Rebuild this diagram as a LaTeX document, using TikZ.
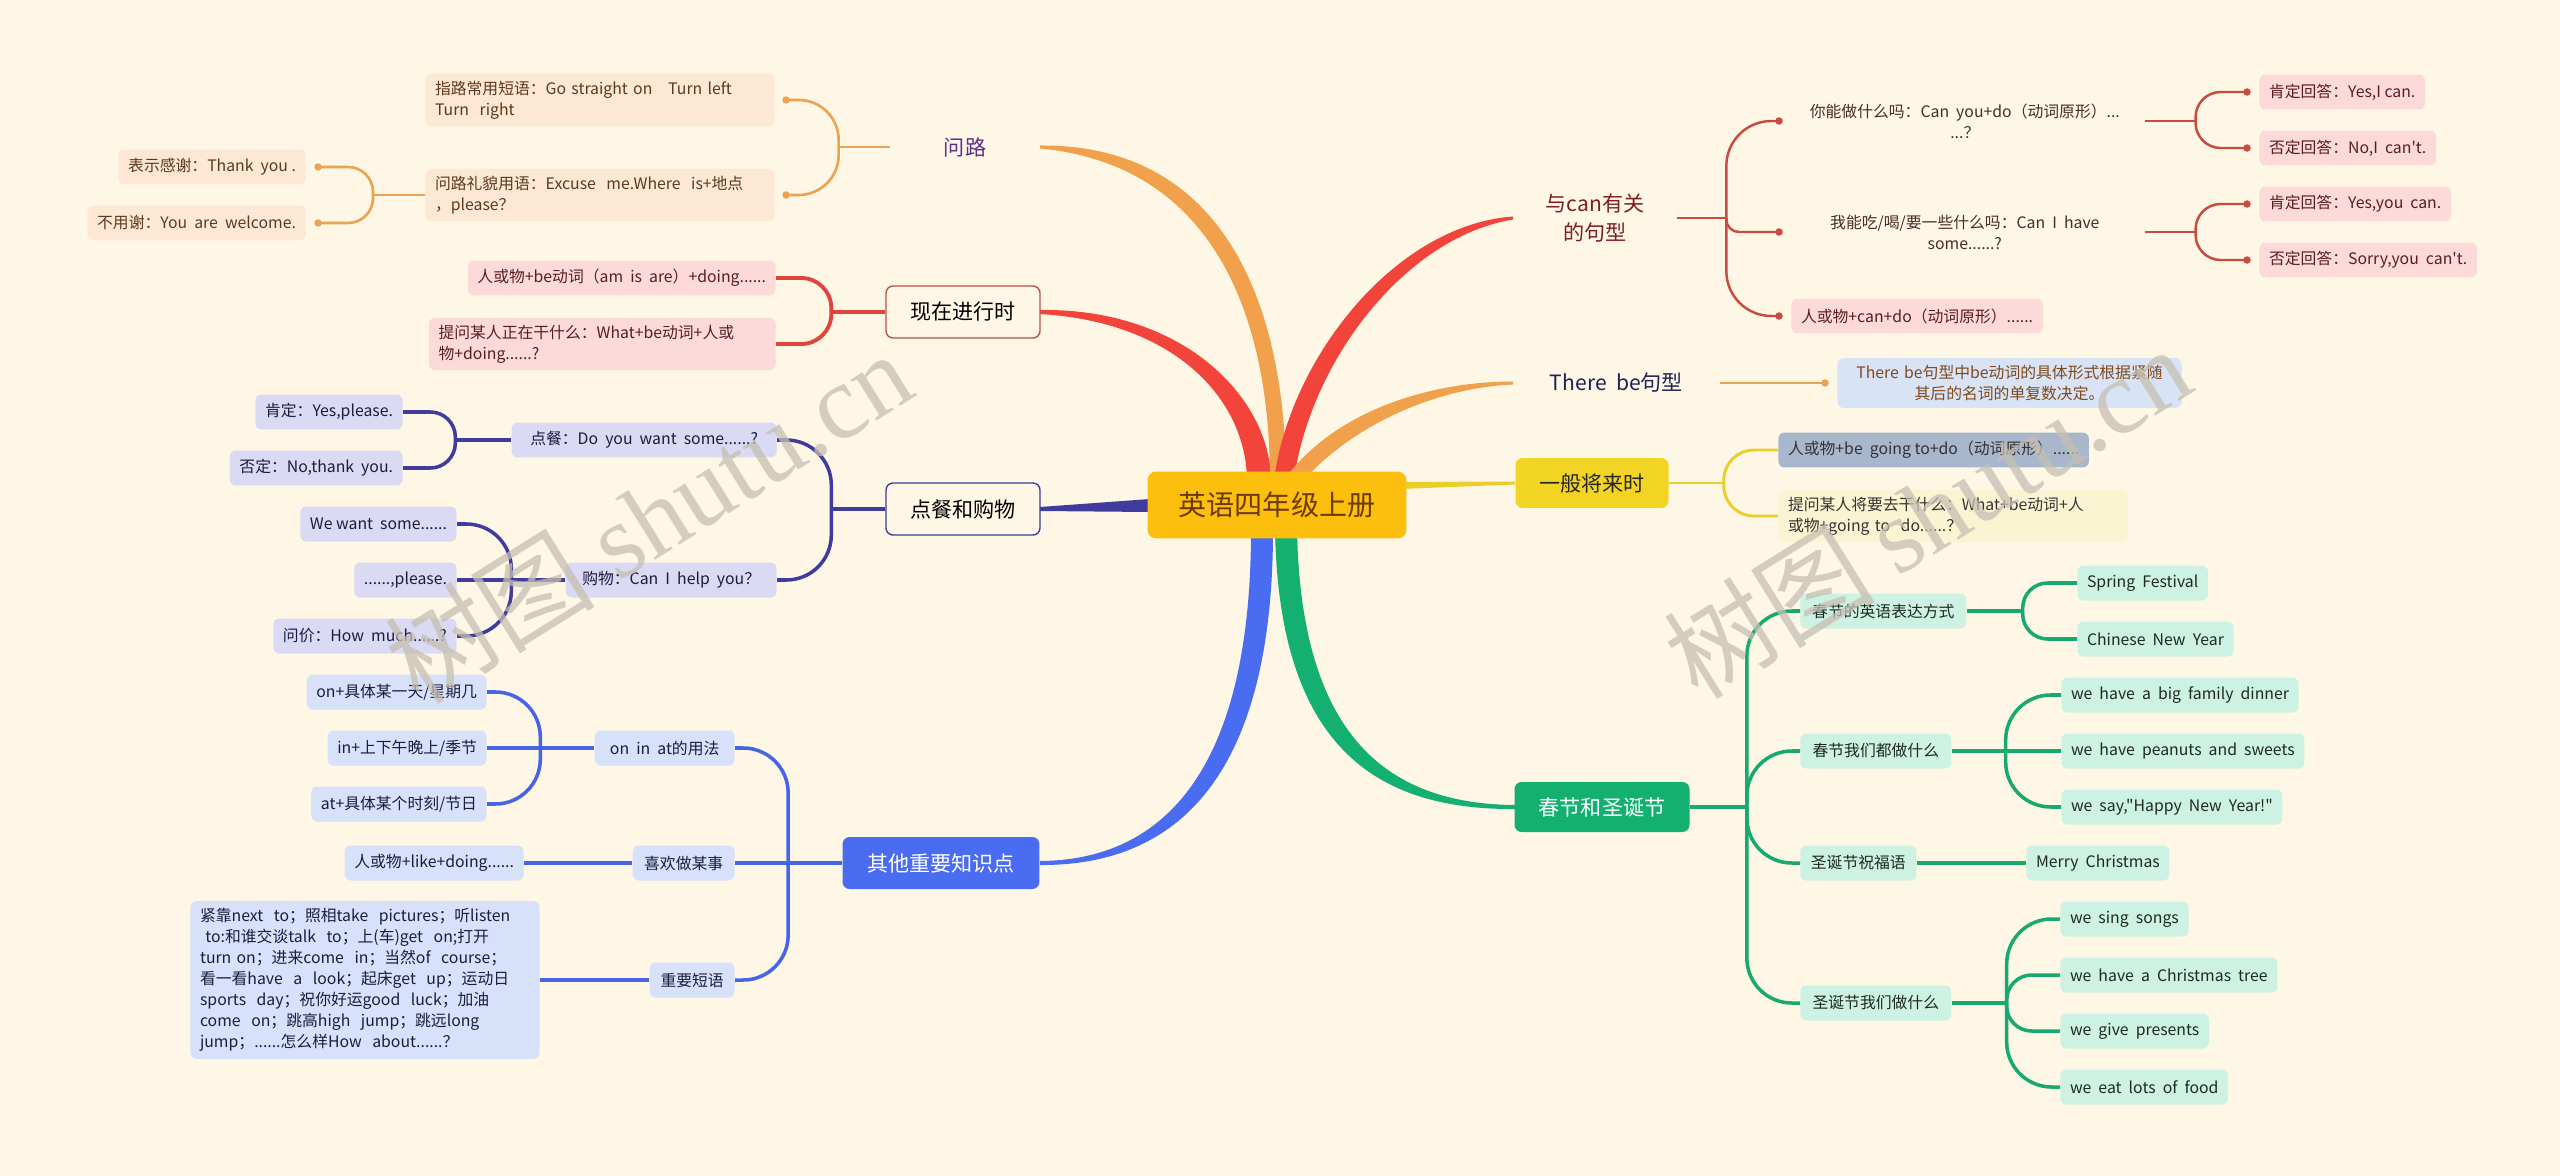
\documentclass[tikz,border=0pt]{standalone}
\usepackage{fontspec}
\setmainfont{Noto Sans CJK SC}[Ligatures=TeXOff]
\newfontfamily\wmfont{Liberation Serif}

\definecolor{paper}{HTML}{FEF7E6}
\definecolor{hubfill}{HTML}{FDBF0E}
\definecolor{hubink}{HTML}{6B3A05}
\definecolor{orbranch}{HTML}{F1A04C}
\definecolor{orline}{HTML}{EBA352}
\definecolor{orleaf}{HTML}{FCE8D4}
\definecolor{orink}{HTML}{5C3A1E}
\definecolor{wenluink}{HTML}{5B2D8E}
\definecolor{rdbranch}{HTML}{F2443A}
\definecolor{rdline}{HTML}{E0453B}
\definecolor{rdleaf}{HTML}{FCDADA}
\definecolor{rdink}{HTML}{5A1E1E}
\definecolor{rdborder}{HTML}{B8524B}
\definecolor{indbranch}{HTML}{3F3C9E}
\definecolor{indleaf}{HTML}{DADAF4}
\definecolor{indink}{HTML}{1C1C40}
\definecolor{blbranch}{HTML}{4A6CF0}
\definecolor{blline}{HTML}{4564E6}
\definecolor{blleaf}{HTML}{D8E1FA}
\definecolor{canline}{HTML}{C94A3F}
\definecolor{canink}{HTML}{7D1F1F}
\definecolor{askink}{HTML}{4A2C24}
\definecolor{tbink}{HTML}{1F2155}
\definecolor{tbleaf}{HTML}{D9E3F6}
\definecolor{tbnote}{HTML}{7F4A1C}
\definecolor{yebranch}{HTML}{EBCD2C}
\definecolor{yebox}{HTML}{F2D424}
\definecolor{yeleafa}{HTML}{A9B7CD}
\definecolor{yeleafb}{HTML}{FBF4D3}
\definecolor{grbranch}{HTML}{13B072}
\definecolor{grline}{HTML}{17A970}
\definecolor{grleaf}{HTML}{CDF1E2}
\definecolor{grink}{HTML}{1E2A24}
\definecolor{wmgray}{HTML}{C6BFB2}

\tikzset{
    hub/.style={fill=hubfill, text=hubink, rounded corners=5pt,
                minimum width=5.18cm, minimum height=1.34cm,
                font=\fontsize{16}{18}\selectfont},
    branchbox/.style={rounded corners=4pt, minimum height=1.04cm, inner xsep=6pt,
                align=center, font=\fontsize{12}{16}\selectfont},
    leafbox/.style={rounded corners=3.5pt, minimum height=0.7cm, inner xsep=5.5pt,
                inner ysep=4pt, align=left, font=\fontsize{9}{12}\selectfont},
    leafo/.style={leafbox, fill=orleaf, text=orink},
    leafr/.style={leafbox, fill=rdleaf, text=rdink},
    leafi/.style={leafbox, fill=indleaf, text=indink},
    leafb/.style={leafbox, fill=blleaf, text=indink},
    leafg/.style={leafbox, fill=grleaf, text=grink},
    askbox/.style={leafbox, text=askink, align=center, minimum width=7.18cm},
    wireo/.style={draw=orline, line width=1.5pt},
    wirer/.style={draw=rdline, line width=2.2pt},
    wirei/.style={draw=indbranch, line width=2pt},
    wireb/.style={draw=blline, line width=2pt},
    wirec/.style={draw=canline, line width=1.4pt},
    wirey/.style={draw=yebranch, line width=1.7pt},
    wireg/.style={draw=grline, line width=2pt},
    watermark/.style={text=wmgray, text opacity=0.75, rotate=32,
                font=\fontsize{60}{60}\selectfont},
}

\begin{document}
\begin{tikzpicture}[x=0.02cm, y=0.02cm]
    \useasboundingbox (0,0) rectangle (2560,-1176);
    \fill[paper] (0,0) rectangle (2560,-1176);

    \fill[blbranch] (1251,-530) .. controls (1251,-754) and (1175,-860) .. (1040,-861)
        -- (1040,-865) .. controls (1185,-866) and (1273,-766) .. (1273,-530) -- cycle;
    \fill[grbranch] (1275,-530) .. controls (1279,-746) and (1375,-810) .. (1515,-809)
        -- (1515,-805) .. controls (1385,-804) and (1301,-734) .. (1297,-530) -- cycle;
    \fill[indbranch] (1150,-499) -- (1040,-507) -- (1040,-511) -- (1150,-512) -- cycle;
    \fill[yebranch] (1400,-482) -- (1515,-481.5) -- (1515,-484.5) -- (1400,-489) -- cycle;
    \fill[rdbranch] (1247,-480) .. controls (1246,-400) and (1176,-322) .. (1040,-314)
        -- (1040,-310) .. controls (1184,-308) and (1270,-398) .. (1271,-480) -- cycle;
    \fill[orbranch] (1270,-480) .. controls (1270,-335) and (1225,-166) .. (1040,-148.5)
        -- (1040,-145.5) .. controls (1236,-144) and (1286,-325) .. (1286,-480) -- cycle;
    \fill[rdbranch] (1274,-480) .. controls (1290,-358) and (1395,-225) .. (1513,-216.5)
        -- (1513,-219.5) .. controls (1405,-237) and (1310,-362) .. (1294,-480) -- cycle;
    \fill[orbranch] (1284,-480) .. controls (1333,-412) and (1428,-381.5) .. (1513,-381.5)
        -- (1513,-384.5) .. controls (1432,-388) and (1350,-428) .. (1304,-480) -- cycle;

    \node[hub] (hub) at (1277,-505) {英语四年级上册};

    \node[branchbox, text=wenluink, minimum width=3cm] (wenlu) at (965,-147) {问路};
    \node[branchbox, draw=rdborder, line width=0.8pt, fill=paper, minimum width=3.08cm]
        (jinxing) at (963,-312) {现在进行时};
    \node[branchbox, draw=indbranch, line width=0.8pt, fill=paper, minimum width=3.08cm]
        (diancan) at (963,-509) {点餐和购物};
    \node[branchbox, fill=blbranch, text=white, minimum width=3.94cm]
        (qita) at (941,-863) {其他重要知识点};
    \node[branchbox, text=canink, minimum width=3.28cm] (canju) at (1595,-218) {与can有关\\的句型};
    \node[branchbox, text=tbink, minimum width=4.14cm] (therebe) at (1616.5,-383) {There\ \ be句型};
    \node[branchbox, fill=yebox, text=black!85, minimum width=3.06cm, minimum height=1cm]
        (jianglai) at (1592,-483) {一般将来时};
    \node[branchbox, fill=grbranch, text=white, minimum width=3.5cm, minimum height=1cm]
        (chunjie) at (1602,-807) {春节和圣诞节};

    \node[leafo, anchor=east, text width=6.6cm] (zhilu) at (775,-100)
        {指路常用短语：Go straight on\quad Turn left\\Turn\ \ right};
    \node[leafo, anchor=east, text width=6.6cm] (wenli) at (775,-195)
        {问路礼貌用语：Excuse\ \ me.Where\ \ is+地点\\，please？};
    \node[leafo, anchor=east] (ganxie) at (306,-167) {表示感谢：Thank\ \ you .};
    \node[leafo, anchor=east] (buyong) at (306,-223) {不用谢：You\ \ are\ \ welcome.};

    \node[leafr, anchor=east] (jx1) at (776,-278) {人或物+be动词（am\ \ is\ \ are）+doing......};
    \node[leafr, anchor=east, text width=6.55cm] (jx2) at (776,-344)
        {提问某人正在干什么：What+be动词+人或\\物+doing......?};

    \node[leafi, anchor=east, minimum width=5.3cm] (dian) at (777,-440) {点餐：Do\ \ you\ \ want\ \ some......?};
    \node[leafi, anchor=east, minimum width=4.22cm] (gou) at (777,-580) {购物：Can\ \ I\ \ help\ \ you？};
    \node[leafi, anchor=east] (kending) at (403,-412) {肯定：Yes,please.};
    \node[leafi, anchor=east] (fouding) at (403,-468) {否定：No,thank\ \ you.};
    \node[leafi, anchor=east] (want) at (457,-524) {We want\ \ some......};
    \node[leafi, anchor=east] (please) at (457,-580) {......,please.};
    \node[leafi, anchor=east] (howmuch) at (457,-636) {问价：How\ \ much......?};

    \node[leafb, anchor=east, minimum width=2.8cm] (onin) at (735,-748) {on\ \ in\ \ at的用法};
    \node[leafb, anchor=east, minimum width=2.04cm] (xihuan) at (735,-863) {喜欢做某事};
    \node[leafb, anchor=east, minimum width=1.7cm] (duanyu) at (735,-980) {重要短语};
    \node[leafb, anchor=east] (onday) at (487,-692) {on+具体某一天/星期几};
    \node[leafb, anchor=east] (inday) at (487,-748) {in+上下午晚上/季节};
    \node[leafb, anchor=east] (atday) at (487,-804) {at+具体某个时刻/节日};
    \node[leafb, anchor=east] (likedo) at (524,-863) {人或物+like+doing......};
    \node[leafb, anchor=east, text width=6.6cm] (phrases) at (540,-980)
        {紧靠next\ \ to；照相take\ \ pictures；听listen\\
         \ to:和谁交谈talk\ \ to；上(车)get\ \ on;打开\\
         turn on；进来come\ \ in；当然of\ \ course；\\
         看一看have\ \ a\ \ look；起床get\ \ up；运动日\\
         sports\ \ day；祝你好运good\ \ luck；加油\\
         come\ \ on；跳高high\ \ jump；跳远long\\
         jump；......怎么样How\ \ about......？};

    \node[askbox, anchor=west] (ask1) at (1785,-121) {你能做什么吗：Can\ \ you+do（动词原形）...\\...？};
    \node[askbox, anchor=west] (ask2) at (1785,-232) {我能吃/喝/要一些什么吗：Can\ \ I\ \ have\\some......?};
    \node[leafr, anchor=west] (ask3) at (1791,-316) {人或物+can+do（动词原形）......};
    \node[leafr, anchor=west] (yes1) at (2259,-92) {肯定回答：Yes,I can.};
    \node[leafr, anchor=west] (no1) at (2259,-148) {否定回答：No,I\ \ can't.};
    \node[leafr, anchor=west] (yes2) at (2259,-204) {肯定回答：Yes,you\ \ can.};
    \node[leafr, anchor=west] (no2) at (2259,-260) {否定回答：Sorry,you\ \ can't.};

    \node[leafbox, fill=tbleaf, text=tbnote, align=center, text width=6.5cm, anchor=west]
        (tbrule) at (1837,-383) {There be句型中be动词的具体形式根据紧随\\其后的名词的单复数决定。};

    \node[leafbox, fill=yeleafa, text=black!80, anchor=west] (jl1) at (1778,-450)
        {人或物+be\ \ going to+do（动词原形）......};
    \node[leafbox, fill=yeleafb, text=black!80, anchor=west, text width=6.6cm] (jl2) at (1778,-516)
        {提问某人将要去干什么：What+be动词+人\\或物+going to\ \ do......？};

    \node[leafg, anchor=west, minimum width=3.32cm] (cj1) at (1800,-611) {春节的英语表达方式};
    \node[leafg, anchor=west, minimum width=3.02cm] (cj2) at (1800,-751) {春节我们都做什么};
    \node[leafg, anchor=west, minimum width=2.32cm] (cj3) at (1800,-863) {圣诞节祝福语};
    \node[leafg, anchor=west, minimum width=3.02cm] (cj4) at (1800,-1003) {圣诞节我们做什么};
    \node[leafg, anchor=west] (spring) at (2077,-583) {Spring\ \ Festival};
    \node[leafg, anchor=west] (cny) at (2077,-639) {Chinese\ \ New\ \ Year};
    \node[leafg, anchor=west] (dinner) at (2061,-695) {we\ \ have\ \ a\ \ big\ \ family\ \ dinner};
    \node[leafg, anchor=west] (peanut) at (2061,-751) {we\ \ have\ \ peanuts\ \ and\ \ sweets};
    \node[leafg, anchor=west] (sayhny) at (2061,-807) {we\ \ say,"Happy\ \ New\ \ Year!"};
    \node[leafg, anchor=west] (merry) at (2026,-863) {Merry\ \ Christmas};
    \node[leafg, anchor=west] (sing) at (2060,-919) {we\ \ sing\ \ songs};
    \node[leafg, anchor=west] (tree) at (2060,-975) {we\ \ have\ \ a\ \ Christmas\ \ tree};
    \node[leafg, anchor=west] (gift) at (2060,-1031) {we\ \ give\ \ presents};
    \node[leafg, anchor=west] (food) at (2060,-1087) {we\ \ eat\ \ lots\ \ of\ \ food};

    \coordinate (dzl) at (786,-100);
    \coordinate (dwl) at (786,-195);
    \coordinate (dgx) at (318,-167);
    \coordinate (dby) at (318,-223);
    \draw[wireo] (wenlu.west) -- ++(-51,0) coordinate (jwl);
    \draw[wireo, rounded corners=0.8cm] (jwl) |- (dzl);
    \draw[wireo, rounded corners=0.8cm] (jwl) |- (dwl);
    \draw[wireo] (wenli.west) -- ++(-52,0) coordinate (jty);
    \draw[wireo, rounded corners=0.5cm] (jty) |- (dgx);
    \draw[wireo, rounded corners=0.5cm] (jty) |- (dby);
    \foreach \d in {dzl,dwl,dgx,dby}
        \fill[orline] (\d) circle (0.075cm);

    \draw[wirer] (jinxing.west) -- ++(-54,0) coordinate (jjx);
    \draw[wirer, rounded corners=0.6cm] (jjx) |- (jx1.east);
    \draw[wirer, rounded corners=0.6cm] (jjx) |- (jx2.east);

    \draw[wirei] (diancan.west) -- ++(-54,0) coordinate (jdc);
    \draw[wirei, rounded corners=0.9cm] (jdc) |- (dian.east);
    \draw[wirei, rounded corners=0.9cm] (jdc) |- (gou.east);
    \draw[wirei] (dian.west) -- ++(-56,0) coordinate (jdian);
    \draw[wirei, rounded corners=0.5cm] (jdian) |- (kending.east);
    \draw[wirei, rounded corners=0.5cm] (jdian) |- (fouding.east);
    \draw[wirei] (gou.west) -- ++(-54,0) coordinate (jgou) -- (please.east);
    \draw[wirei, rounded corners=0.9cm] (jgou) |- (want.east);
    \draw[wirei, rounded corners=0.9cm] (jgou) |- (howmuch.east);

    \draw[wireb] (qita.west) -- ++(-54,0) coordinate (jqt) -- (xihuan.east);
    \draw[wireb, rounded corners=0.9cm] (jqt) |- (onin.east);
    \draw[wireb, rounded corners=0.9cm] (jqt) |- (duanyu.east);
    \draw[wireb] (onin.west) -- ++(-54,0) coordinate (jon) -- (inday.east);
    \draw[wireb, rounded corners=0.9cm] (jon) |- (onday.east);
    \draw[wireb, rounded corners=0.9cm] (jon) |- (atday.east);
    \draw[wireb] (xihuan.west) -- (likedo.east);
    \draw[wireb] (duanyu.west) -- (phrases.east);

    \coordinate (dq1) at (1779,-121);
    \coordinate (dq2) at (1779,-232);
    \coordinate (dq3) at (1779,-316);
    \coordinate (dy1) at (2247,-92);
    \coordinate (dn1) at (2247,-148);
    \coordinate (dy2) at (2247,-204);
    \coordinate (dn2) at (2247,-260);
    \draw[wirec] (canju.east) -- ++(49,0) coordinate (jcan);
    \draw[wirec, rounded corners=0.9cm] (jcan) |- (dq1);
    \draw[wirec, rounded corners=0.25cm] (jcan) |- (dq2);
    \draw[wirec, rounded corners=0.9cm] (jcan) |- (dq3);
    \draw[wirec] (ask1.east) -- ++(51,0) coordinate (ja1);
    \draw[wirec, rounded corners=0.5cm] (ja1) |- (dy1);
    \draw[wirec, rounded corners=0.5cm] (ja1) |- (dn1);
    \draw[wirec] (ask2.east) -- ++(51,0) coordinate (ja2);
    \draw[wirec, rounded corners=0.5cm] (ja2) |- (dy2);
    \draw[wirec, rounded corners=0.5cm] (ja2) |- (dn2);
    \foreach \d in {dq1,dq2,dq3,dy1,dn1,dy2,dn2}
        \fill[canline] (\d) circle (0.075cm);

    \coordinate (dtb) at (1825,-383);
    \draw[wireo] (therebe.east) -- (dtb);
    \fill[orline] (dtb) circle (0.075cm);

    \draw[wirey] (jianglai.east) -- ++(55,0) coordinate (jjl);
    \draw[wirey, rounded corners=0.6cm] (jjl) |- (jl1.west);
    \draw[wirey, rounded corners=0.6cm] (jjl) |- (jl2.west);

    \draw[wireg] (chunjie.east) -- ++(57,0) coordinate (jcj);
    \foreach \n in {cj1,cj2,cj3,cj4}
        \draw[wireg, rounded corners=0.9cm] (jcj) |- (\n.west);
    \draw[wireg] (cj1.east) -- ++(56,0) coordinate (jc1);
    \draw[wireg, rounded corners=0.5cm] (jc1) |- (spring.west);
    \draw[wireg, rounded corners=0.5cm] (jc1) |- (cny.west);
    \draw[wireg] (cj2.east) -- ++(54,0) coordinate (jc2) -- (peanut.west);
    \draw[wireg, rounded corners=0.9cm] (jc2) |- (dinner.west);
    \draw[wireg, rounded corners=0.9cm] (jc2) |- (sayhny.west);
    \draw[wireg] (cj3.east) -- (merry.west);
    \draw[wireg] (cj4.east) -- ++(55,0) coordinate (jc4);
    \foreach \n/\r in {sing/0.9cm, tree/0.5cm, gift/0.5cm, food/0.9cm}
        \draw[wireg, rounded corners=\r] (jc4) |- (\n.west);

    \node[watermark] (mark1) at (648,-517) {树图 {\wmfont shutu.cn}};
    \node[watermark] (mark2) at (1927,-512) {树图 {\wmfont shutu.cn}};
\end{tikzpicture}
\end{document}
